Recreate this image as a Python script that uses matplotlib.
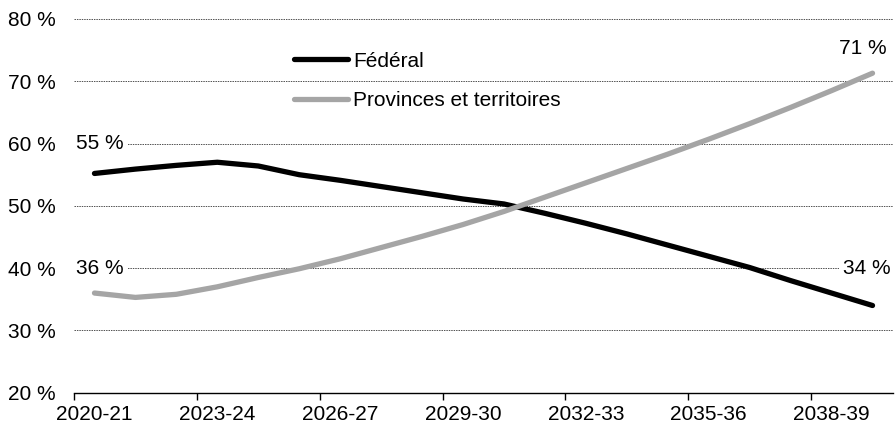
import matplotlib
matplotlib.use("Agg")
import matplotlib.pyplot as plt

plt.rcParams['font.family'] = ['Liberation Sans', 'DejaVu Sans']

## Data

years = ["%d-%02d" % (y, (y + 1) % 100) for y in range(2020, 2040)]
federal = [55.2, 55.9, 56.5, 57.0, 56.4, 55.0, 54.1, 53.1, 52.1, 51.1,
           50.3, 48.8, 47.2, 45.5, 43.7, 41.9, 40.1, 38.0, 36.0, 34.0]
provinces = [36.0, 35.3, 35.8, 37.0, 38.5, 39.9, 41.5, 43.3, 45.1, 47.0,
             49.1, 51.4, 53.7, 56.0, 58.3, 60.7, 63.2, 65.8, 68.5, 71.3]
yticks = [20, 30, 40, 50, 60, 70, 80]

## Plotting

fig = plt.figure(figsize=(8.96, 4.28), dpi=100)
ax = fig.add_axes([74/896, 1 - 392.7/428, (893 - 74)/896, (392.7 - 19)/428])

x = list(range(len(years)))
ax.plot(x, federal, color="black", lw=3.8, solid_capstyle="round", label="Fédéral", zorder=3)
ax.plot(x, provinces, color="#A5A5A5", lw=3.8, solid_capstyle="round",
        label="Provinces et territoires", zorder=3)

ax.set_xlim(-0.5, len(years) - 0.5)
ax.set_ylim(20, 80)

for v in yticks[1:]:
    ax.axhline(v, color="#505050", lw=0.7, ls=(0, (1.5, 1)), zorder=1)

ax.set_yticks(yticks)
ax.set_yticklabels(["%d %%" % v for v in yticks])
ax.tick_params(axis="y", length=0, pad=13, labelsize=15)

# tick marks on category boundaries, labels on category centres
ax.set_xticks([i - 0.5 for i in range(0, len(years), 3)])
ax.set_xticklabels([])
ax.set_xticks(list(range(0, len(years), 3)), minor=True)
ax.set_xticklabels(years[::3], minor=True)
ax.tick_params(axis="x", which="major", length=5, width=1, direction="out")
ax.tick_params(axis="x", which="minor", length=0, pad=9, labelsize=15)

for s in ["left", "right", "top"]:
    ax.spines[s].set_visible(False)
ax.spines["bottom"].set_linewidth(1)

box = dict(facecolor="white", edgecolor="none", pad=3)
ax.text(-0.45, 60, "%d %%" % round(federal[0]), fontsize=15, ha="left", va="center", bbox=box, zorder=2)
ax.text(-0.45, 40, "%d %%" % round(provinces[0]), fontsize=15, ha="left", va="center", bbox=box, zorder=2)
ax.text(19.45, 40, "%d %%" % round(federal[-1]), fontsize=15, ha="right", va="center", bbox=box, zorder=2)
ax.text(19.35, 75.3, "%d %%" % round(provinces[-1]), fontsize=15, ha="right", va="center", zorder=2)

ax.legend(loc="upper left", bbox_to_anchor=(0.258, 0.935), frameon=False, fontsize=15,
          handlelength=2.6, handletextpad=0.25, labelspacing=1.0, borderaxespad=0)

plt.savefig("out.png", dpi=100)
